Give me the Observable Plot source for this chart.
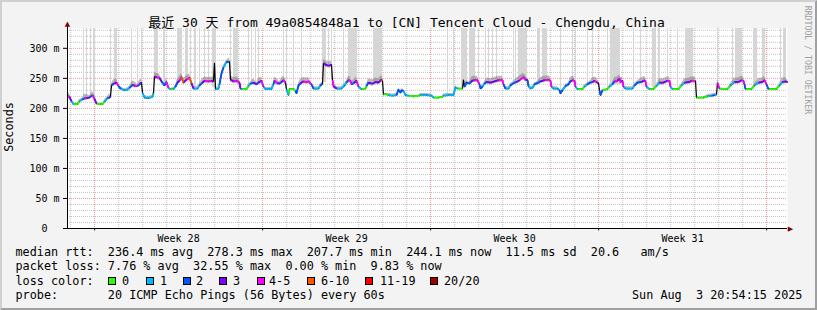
<!DOCTYPE html>
<html><head><meta charset="utf-8">
<script src="https://cdn.jsdelivr.net/npm/d3@7"></script>
<script src="https://cdn.jsdelivr.net/npm/@observablehq/plot@0.6"></script>
<style>
html,body{margin:0;padding:0;background:#f3f3f3}
#wrap{position:relative;width:817px;height:310px;background:#f3f3f3;overflow:hidden;font-family:"DejaVu Sans Mono","Noto Sans CJK SC",monospace;color:#000}
#plot{position:absolute;left:0;top:0}
#border{position:absolute;left:0;top:0;width:817px;height:310px;box-sizing:border-box;border-style:solid;border-width:2px;border-color:#d0d0d0 #a0a0a0 #a0a0a0 #d0d0d0;pointer-events:none}
.t{position:absolute;white-space:pre;font-size:11.8px;line-height:11.8px}
#title{position:absolute;left:-2px;top:16px;width:817px;text-align:center;white-space:pre;font-size:13px;line-height:13px}
.box{position:absolute;width:8px;height:8px;box-sizing:border-box;border:1px solid #000}
.ylab{position:absolute;left:-21px;top:120px;width:60px;height:14px;line-height:14px;text-align:center;font-size:11.8px;transform:rotate(-90deg)}
.rrd{position:absolute;left:750px;top:55px;width:116px;height:10px;line-height:10px;text-align:center;font-size:8.2px;color:#a0a0a0;transform:rotate(90deg);white-space:pre}
</style></head>
<body>
<div id="wrap">
  <div id="plot"></div>
  <div id="title"></div>
  <div class="ylab">Seconds</div>
  <div class="rrd">RRDTOOL / TOBI OETIKER</div>
  <div id="legend"></div>
  <div id="border"></div>
</div>
<script>
// ---- data ----
const TITLE = "最近 30 天 from 49a0854848a1 to [CN] Tencent Cloud - Chengdu, China";
const END_TIME = "2025-08-03T20:54:15Z";
const SPAN_HOURS = 720;
// hours since the start of the 30-day window
const HOURS = [
  0,2,4,6,10,12,15,17,19,22,
  25,27,29,33,35,37,40,42,43,44,
  46,49,51,53,57,60,62,65,67,70,
  72,74,75,77,81,85,86,87,89,92,
  94,97,99,101,103,106,108,110,112,114,
  116,119,122,124,126,130,132,135,137,141,
  144,146,147,148,151,152,154,156,159,162,
  163,166,169,172,173,174,179,181,183,186,
  189,191,194,196,198,204,206,207,210,212,
  214,216,218,219,221,222,226,228,229,231,
  233,236,239,241,244,246,251,253,255,256,
  259,262,264,265,266,269,274,277,279,281,
  283,284,287,289,291,294,298,299,301,305,
  308,311,314,315,316,318,321,325,329,331,
  333,334,336,338,341,346,351,353,359,364,
  366,371,375,376,381,386,388,390,395,396,
  397,399,402,404,406,410,412,413,415,417,
  419,423,427,431,435,436,438,441,443,446,
  449,452,456,458,460,461,463,465,467,470,
  473,477,481,483,484,486,490,492,493,495,
  498,501,503,505,507,508,510,515,517,520,
  523,525,527,529,531,532,533,535,540,542,
  545,547,550,552,553,555,556,558,565,567,
  570,574,577,578,579,582,586,589,592,596,
  600,602,603,605,611,614,617,622,624,628,
  629,636,640,644,647,649,650,652,660,663,
  667,671,674,676,677,678,684,687,691,695,
  697,699,701,709,712,715,718,720];
// median rtt (ms)
const RTT = [
  221,219,212,207,207,212,215,217,217,218,
  222,216,208,207,207,211,217,218,220,238,
  241,243,237,233,230,231,234,239,238,237,
  240,243,226,218,217,219,225,253,252,251,
  245,238,244,234,232,232,236,243,246,252,
  243,248,251,242,233,233,238,243,246,245,
  246,245,275,232,233,240,258,268,277,278,
  248,245,246,243,233,232,232,237,241,243,
  240,243,246,236,232,232,240,246,242,241,
  244,247,243,232,222,232,232,229,225,238,
  242,245,244,245,240,233,233,238,241,275,
  272,271,273,247,237,233,233,238,243,247,
  246,240,243,246,236,232,233,237,243,241,
  244,243,248,246,223,224,222,221,222,231,
  226,230,229,222,221,220,221,222,222,221,
  218,218,219,221,222,222,235,233,233,247,
  236,243,241,245,247,247,240,233,236,241,
  244,243,245,247,247,240,233,233,238,242,
  244,247,252,248,247,237,233,234,240,242,
  245,247,248,246,236,233,233,230,225,230,
  237,240,245,247,246,236,232,232,236,240,
  243,244,246,244,242,230,222,230,232,236,
  240,245,246,250,244,246,236,233,233,238,
  243,244,247,245,236,232,232,237,243,243,
  246,246,236,232,232,238,243,244,246,246,
  218,218,220,221,222,223,242,233,232,238,
  244,244,247,246,240,232,232,238,243,244,
  247,240,232,232,238,244,245,244];
// packet-loss bucket (lost pings of 20)
const LOSS = [
  5,3,1,0,0,1,2,5,3,2,
  5,3,0,0,0,1,2,3,2,2,
  3,5,2,1,1,1,2,3,5,2,
  3,5,1,1,1,1,2,3,5,3,
  2,2,5,1,0,1,2,3,5,10,
  3,5,10,3,1,1,2,3,5,5,
  3,5,3,1,1,2,2,1,2,3,
  3,5,5,3,1,0,0,1,2,3,
  2,3,5,1,1,1,2,5,3,2,
  3,5,3,1,0,0,0,2,2,2,
  3,5,5,5,2,1,1,2,2,3,
  3,3,3,5,3,1,1,1,2,5,
  5,2,3,5,1,0,0,2,3,3,
  3,3,10,5,0,0,1,1,2,2,
  2,2,1,1,0,0,0,1,1,1,
  0,0,0,1,1,1,1,0,0,2,
  2,2,2,3,5,5,2,2,1,2,
  3,3,3,5,5,2,1,1,2,2,
  3,5,5,3,2,1,1,1,2,2,
  3,5,5,5,1,1,1,2,2,1,
  2,2,3,5,5,1,0,0,1,2,
  2,3,5,3,2,2,2,0,0,1,
  2,5,3,5,3,5,1,1,1,2,
  2,3,5,5,1,0,0,1,3,3,
  5,5,1,0,0,1,3,3,5,5,
  0,0,1,2,1,2,5,0,0,1,
  3,3,5,5,2,0,0,1,3,3,
  5,2,0,0,1,3,3,2];
// tall smoke (ping spread) intervals, hours
const SMOKE_FROM = [16,19,23,26,43,47,64,70,74,87,96,110,118,123,127,132,137,141,145,163,166,181,184,188,191,216,219,226,234,255,261,264,276,281,306,380,386,394,402,411,418,421,425,429,446,448,451,470,475,493,505,508,520,525,540,543,566,573,585,591,600,610,618,650,665,668,686,695,713,716];
const SMOKE_TO   = [17,20,24,28,44,50,65,71,75,91,98,115,121,124,129,133,138,142,149,164,171,182,185,189,192,217,220,227,235,259,262,265,277,290,315,381,387,400,408,412,419,422,426,430,447,449,460,473,480,494,506,509,521,526,541,553,567,574,589,593,601,611,626,651,666,675,690,698,714,719];

const LOSS_LEVELS = [0,1,2,3,5,10,19,20];
const LOSS_LABELS = ["0","1","2","3","4-5","6-10","11-19","20/20"];
const LOSS_COLORS = ["#26ff00","#00b8ff","#0059ff","#7e00ff","#ff00ff","#ff5500","#ff0000","#a00000"];

const Y_MAX = 333;
const Y_TICKS = [0,50,100,150,200,250,300];
const WEEK_LABELS = ["Week 28","Week 29","Week 30","Week 31"];
const WEEK_MIDS = ["2025-07-09T12:00:00Z","2025-07-16T12:00:00Z","2025-07-23T12:00:00Z","2025-07-30T12:00:00Z"];

const STAT_RTT  = "median rtt:  236.4 ms avg  278.3 ms max  207.7 ms min  244.1 ms now  11.5 ms sd  20.6   am/s";
const STAT_LOSS = "packet loss: 7.76 % avg  32.55 % max  0.00 % min  9.83 % now";
const PROBE     = "probe:       20 ICMP Echo Pings (56 Bytes) every 60s";
const STAMP     = "Sun Aug  3 20:54:15 2025";

// ---- build ----
const tEnd = new Date(END_TIME).getTime();
const t0 = tEnd - SPAN_HOURS * 3600e3;
const toDate = h => new Date(t0 + h * 3600e3);
const data = HOURS.map((h, i) => ({h, t: toDate(h), v: RTT[i], loss: LOSS[i]}));
const interp = d3.scaleLinear().domain(HOURS).range(RTT);
const smoke = SMOKE_FROM.map((a, i) => ({a: toDate(a), b: toDate(SMOKE_TO[i]), lo: Math.min(interp(a), interp(SMOKE_TO[i])) + 2}));
const segs = [];
for (let i = 0; i < data.length - 1; i++) {
  const a = data[i], b = data[i + 1];
  if (Math.abs(b.v - a.v) / (b.h - a.h) <= 10) segs.push({t1: a.t, v1: a.v, t2: b.t, v2: b.v, loss: a.loss});
}
const days = d3.utcDay.range(toDate(0), toDate(SPAN_HOURS));
const sundays = days.filter(d => d.getUTCDay() === 0);
const plainDays = days.filter(d => d.getUTCDay() !== 0);
const minorY = d3.range(10, Y_MAX, 10).filter(v => v % 50 !== 0);
const majorY = Y_TICKS.filter(v => v > 0);
const weekMids = WEEK_MIDS.map(s => new Date(s));
const band = l => l >= 3 ? 4 : l >= 1 ? 1.8 : 0.6;

const colorMarks = LOSS_LEVELS.map((lvl, k) =>
  Plot.link(segs.filter(s => s.loss === lvl), {x1: "t1", y1: "v1", x2: "t2", y2: "v2", stroke: LOSS_COLORS[k], strokeWidth: 1.8}));

const chart = Plot.plot({
  width: 817, height: 245,
  marginLeft: 67, marginRight: 30, marginTop: 28, marginBottom: 17,
  style: {background: "transparent", fontFamily: "DejaVu Sans Mono, monospace", fontSize: "10px", color: "#000", overflow: "visible"},
  x: {type: "utc", domain: [toDate(0), toDate(SPAN_HOURS)], ticks: weekMids,
      tickFormat: d => WEEK_LABELS[weekMids.findIndex(m => +m === +d)], tickSize: 0, tickPadding: 6, label: null},
  y: {domain: [0, Y_MAX], ticks: Y_TICKS, tickFormat: d => d === 0 ? "0\u00a0\u00a0" : d + "\u00a0m", tickSize: 4, tickPadding: 4, label: null},
  marks: [
    Plot.frame({fill: "white", stroke: "none"}),
    Plot.ruleY(minorY, {stroke: "#c4c4c4", strokeDasharray: "1,1"}),
    Plot.ruleX(plainDays, {stroke: "#c4c4c4", strokeDasharray: "1,1"}),
    Plot.ruleY(majorY, {stroke: "#f09a9a", strokeDasharray: "1,1"}),
    Plot.ruleX(sundays, {stroke: "#f09a9a", strokeDasharray: "1,1"}),
    Plot.rect(smoke, {x1: "a", x2: "b", y1: "lo", y2: () => Y_MAX, fill: "#d6d6d6"}),
    Plot.areaY(data, {x: "t", y1: d => d.v - band(d.loss), y2: d => d.v + band(d.loss) * 1.6, fill: "#666", fillOpacity: 0.45}),
    Plot.line(data, {x: "t", y: "v", stroke: "#000", strokeWidth: 1.2}),
    ...colorMarks,
    Plot.ruleY([0], {stroke: "#000"}),
    Plot.ruleX([toDate(0)], {y1: 0, y2: Y_MAX * 1.02, stroke: "#000"}),
    Plot.ruleX(sundays, {y1: 0, y2: -Y_MAX * 0.012, stroke: "#000"}),
    Plot.text(["\u25B2"], {x: () => toDate(0), y: () => Y_MAX * 1.025, fill: "#800000", fontSize: 7, fontFamily: "DejaVu Sans"}),
    Plot.text(["\u25B6"], {x: () => toDate(SPAN_HOURS * 1.004), y: () => 0, fill: "#800000", fontSize: 7, fontFamily: "DejaVu Sans"})
  ]
});
document.getElementById("plot").appendChild(chart);
document.getElementById("title").textContent = TITLE;

// legend (HTML text below the plot area)
const leg = document.getElementById("legend");
function addText(txt, left, top) {
  const d = document.createElement("div");
  d.className = "t"; d.textContent = txt;
  d.style.left = left + "px"; d.style.top = top + "px";
  leg.appendChild(d);
}
addText(STAT_RTT, 15.5, 247);
addText(STAT_LOSS, 15.5, 261);
addText("loss color:", 15.5, 275.5);
addText(PROBE, 15.5, 290);
addText(STAMP, 632, 290);
const boxX = [108, 146, 183, 219, 257, 307, 365, 430];
const labX = [122, 160, 196, 233, 269, 321, 380, 444];
LOSS_LABELS.forEach((lab, i) => {
  const b = document.createElement("div");
  b.className = "box"; b.style.left = boxX[i] + "px"; b.style.top = "277px";
  b.style.background = LOSS_COLORS[i];
  leg.appendChild(b);
  addText(lab, labX[i], 275.5);
});
</script>
</body></html>
